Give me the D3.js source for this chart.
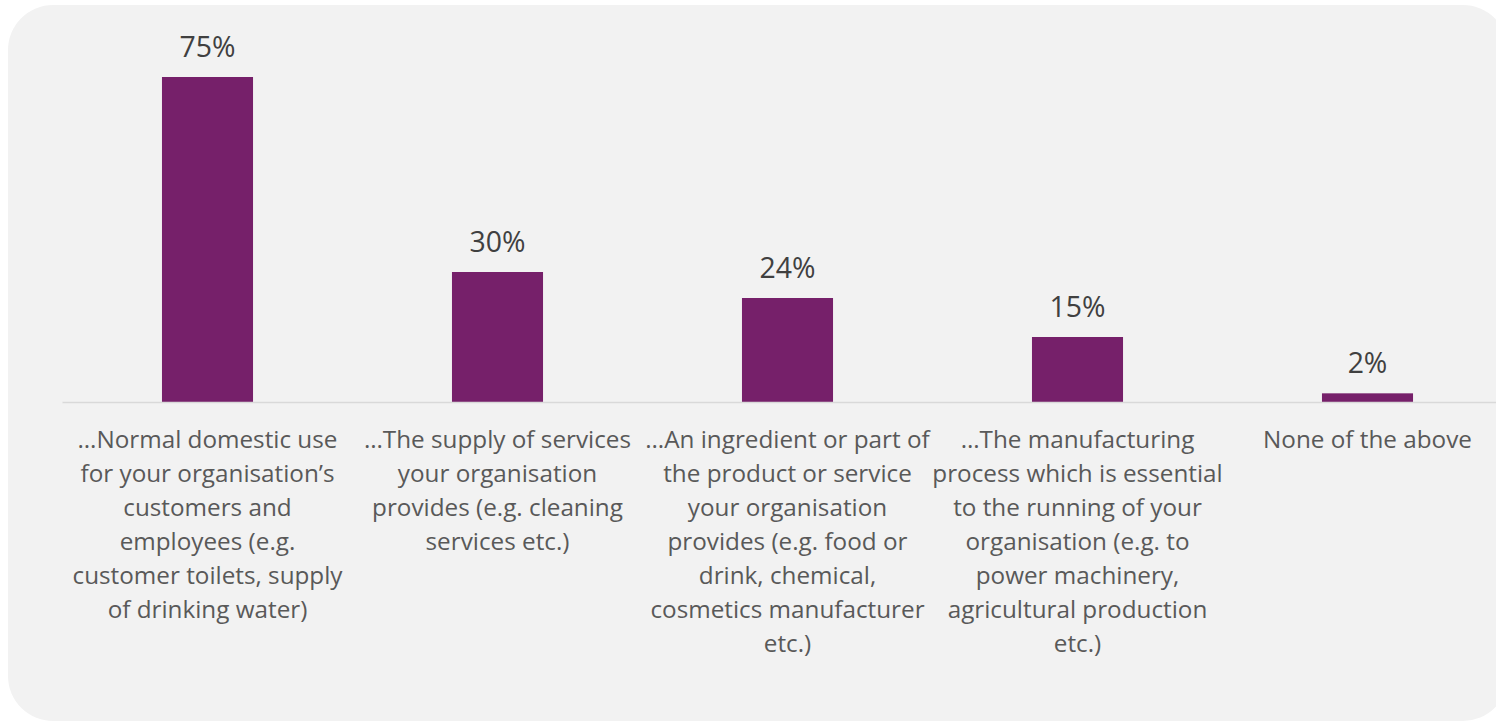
<!DOCTYPE html>
<html>
<head>
<meta charset="utf-8">
<script src="https://cdn.jsdelivr.net/npm/d3@7"></script>
<style>
  html, body { margin: 0; padding: 0; background: #ffffff; }
  svg { display: block; }
</style>
</head>
<body>
<svg id="chart" width="1496" height="723"></svg>
<script>
// Share of organisations by how they use water (%)
const categories = [
  ["…Normal domestic use", "for your organisation’s", "customers and", "employees (e.g.", "customer toilets, supply", "of drinking water)"],
  ["…The supply of services", "your organisation", "provides (e.g. cleaning", "services etc.)"],
  ["…An ingredient or part of", "the product or service", "your organisation", "provides (e.g. food or", "drink, chemical,", "cosmetics manufacturer", "etc.)"],
  ["…The manufacturing", "process which is essential", "to the running of your", "organisation (e.g. to", "power machinery,", "agricultural production", "etc.)"],
  ["None of the above"]
];
const values = [75, 30, 24, 15, 2];
const valueLabels = ["75%", "30%", "24%", "15%", "2%"];

const W = 1496, H = 723;
const svg = d3.select("#chart");
const FONT = "'Open Sans', 'DejaVu Sans', sans-serif";

// size a font so a sample string spans a given width
function fitSize(sample, targetWidth) {
  const ctx = document.createElement("canvas").getContext("2d");
  ctx.font = "100px " + FONT;
  return 100 * targetWidth / ctx.measureText(sample).width;
}
const catSize = fitSize("…Normal domestic use", 260);
const valSize = fitSize("75%", 56);

// panel
svg.append("rect")
  .attr("x", 8).attr("y", 5)
  .attr("width", 1500).attr("height", 716)
  .attr("rx", 45).attr("ry", 45)
  .attr("fill", "#f2f2f2");

const plot = { left: 62.5, right: 1512.5, base: 402 };
const x = d3.scaleBand()
  .domain(d3.range(values.length))
  .range([plot.left, plot.right])
  .paddingInner(0.686)
  .paddingOuter(0.343);
const y = d3.scaleLinear().domain([0, 75]).range([plot.base, 77]);

// bars
svg.append("g").selectAll("rect")
  .data(values)
  .join("rect")
  .attr("x", (d, i) => x(i))
  .attr("y", d => y(d))
  .attr("width", x.bandwidth())
  .attr("height", d => y(0) - y(d))
  .attr("fill", "#76206a");

// baseline
svg.append("line")
  .attr("x1", plot.left).attr("x2", W)
  .attr("y1", plot.base + 0.5).attr("y2", plot.base + 0.5)
  .attr("stroke", "#d9d9d9").attr("stroke-width", 1.5);

// value labels
svg.append("g").selectAll("text")
  .data(values)
  .join("text")
  .attr("x", (d, i) => x(i) + x.bandwidth() / 2)
  .attr("y", d => y(d) - 20)
  .attr("text-anchor", "middle")
  .attr("font-family", FONT)
  .attr("font-size", valSize)
  .attr("fill", "#404040")
  .text((d, i) => valueLabels[i]);

// category labels
const cat = svg.append("g").selectAll("text")
  .data(categories)
  .join("text")
  .attr("text-anchor", "middle")
  .attr("font-family", FONT)
  .attr("font-size", catSize)
  .attr("fill", "#595959");
cat.each(function (lines, i) {
  const cx = x(i) + x.bandwidth() / 2;
  d3.select(this).selectAll("tspan")
    .data(lines)
    .join("tspan")
    .attr("x", cx)
    .attr("y", (d, j) => 448 + j * 34)
    .text(d => d);
});
</script>
</body>
</html>
